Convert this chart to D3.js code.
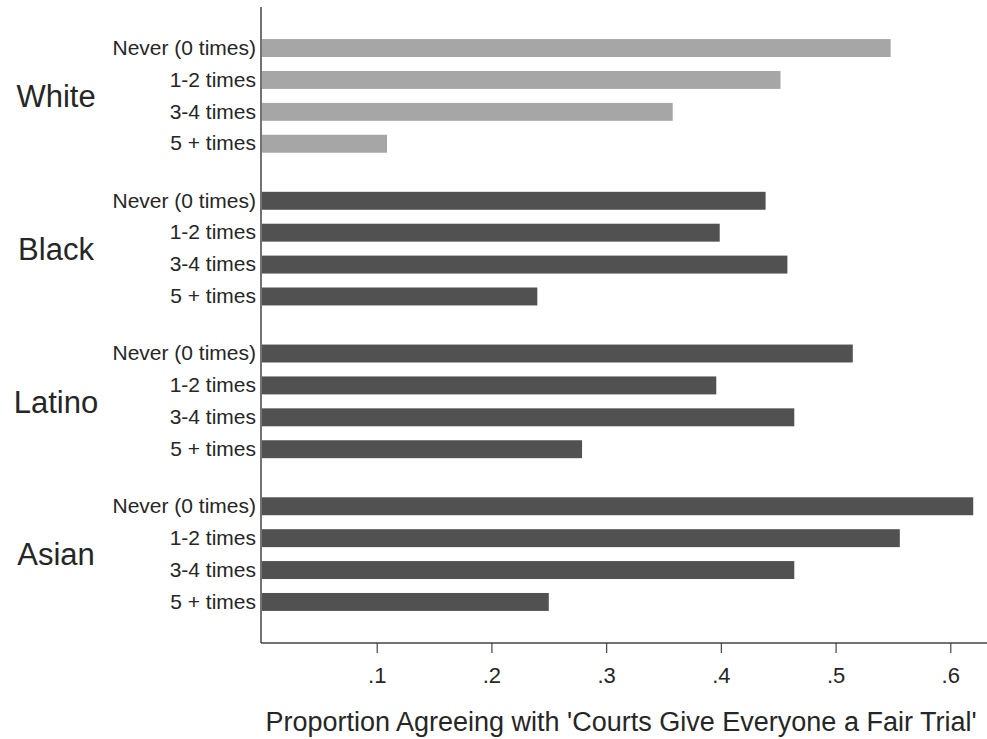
<!DOCTYPE html>
<html>
<head>
<meta charset="utf-8">
<script src="https://cdn.jsdelivr.net/npm/d3@7"></script>
<style>
  html, body { margin: 0; padding: 0; background: #fff; }
  svg { display: block; font-family: "Liberation Sans", Arial, Helvetica, sans-serif; }
</style>
</head>
<body>
<svg id="chart" width="987" height="739"></svg>
<script>
// Survey groups and the contact-frequency categories shown within each
const groups = ["White", "Black", "Latino", "Asian"];
const categories = ["Never (0 times)", "1-2 times", "3-4 times", "5 + times"];

// Proportion agreeing, one array per group (ordered as categories)
const whiteValues  = [0.548, 0.452, 0.358, 0.109];
const blackValues  = [0.439, 0.399, 0.458, 0.240];
const latinoValues = [0.515, 0.396, 0.464, 0.279];
const asianValues  = [0.620, 0.556, 0.464, 0.250];

const xTicks = [0.1, 0.2, 0.3, 0.4, 0.5, 0.6];
const xTitle = "Proportion Agreeing with 'Courts Give Everyone a Fair Trial'";

const seriesByGroup = {
  White: whiteValues,
  Black: blackValues,
  Latino: latinoValues,
  Asian: asianValues
};

const svg = d3.select("#chart");

const plot = { left: 261, right: 987, top: 7, bottom: 643 };

const x = d3.scaleLinear().domain([0, 0.632]).range([262, 987]);

const yGroup = d3.scaleBand()
  .domain(groups)
  .range([plot.top, plot.bottom])
  .paddingInner(0.256)
  .paddingOuter(0.21);

const yCat = d3.scaleBand()
  .domain(categories)
  .range([0, yGroup.bandwidth()])
  .paddingInner(0.4375)
  .paddingOuter(0);

const fillFor = g => (g === "White" ? "#a6a6a6" : "#515151");
const textColor = "#262626";

// Bars
groups.forEach(g => {
  const gy = yGroup(g);
  const rows = categories.map((c, i) => ({ cat: c, value: seriesByGroup[g][i] }));
  const grp = svg.append("g").attr("transform", `translate(0,${gy})`);

  grp.selectAll("rect")
    .data(rows)
    .join("rect")
    .attr("x", x(0))
    .attr("y", d => yCat(d.cat))
    .attr("width", d => x(d.value) - x(0))
    .attr("height", yCat.bandwidth())
    .attr("fill", fillFor(g));

  // Category labels via a left axis per group
  const ax = grp.append("g")
    .attr("transform", `translate(${plot.left},0)`)
    .call(d3.axisLeft(yCat).tickSize(0).tickPadding(5));
  ax.select(".domain").remove();
  ax.selectAll("text")
    .attr("font-size", 21)
    .attr("fill", textColor)
    .style("font-family", "'Liberation Sans', Arial, sans-serif");

  // Group label
  svg.append("text")
    .attr("x", 56)
    .attr("y", gy + yGroup.bandwidth() / 2)
    .attr("dy", "0.36em")
    .attr("text-anchor", "middle")
    .attr("font-size", 31)
    .attr("fill", textColor)
    .text(g);
});

// Y axis line
svg.append("line")
  .attr("x1", plot.left).attr("x2", plot.left)
  .attr("y1", plot.top).attr("y2", plot.bottom)
  .attr("stroke", "#444").attr("stroke-width", 1.5);

// X axis
const fmt = d => d3.format(".1f")(d).replace(/^0/, "");
const xAxis = svg.append("g")
  .attr("transform", `translate(0,${plot.bottom})`)
  .call(d3.axisBottom(x).tickValues(xTicks).tickFormat(fmt).tickSize(10).tickSizeOuter(0).tickPadding(14));
xAxis.select(".domain")
  .attr("d", `M${plot.left},0H${plot.right}`)
  .attr("stroke", "#444").attr("stroke-width", 1.5);
xAxis.selectAll(".tick line").attr("stroke", "#444").attr("stroke-width", 1.2);
xAxis.selectAll(".tick text")
  .attr("font-size", 22)
  .attr("fill", textColor)
  .style("font-family", "'Liberation Sans', Arial, sans-serif");

// X axis title
svg.append("text")
  .attr("x", 621)
  .attr("y", 731)
  .attr("text-anchor", "middle")
  .attr("font-size", 27)
  .attr("fill", textColor)
  .text(xTitle);
</script>
</body>
</html>
